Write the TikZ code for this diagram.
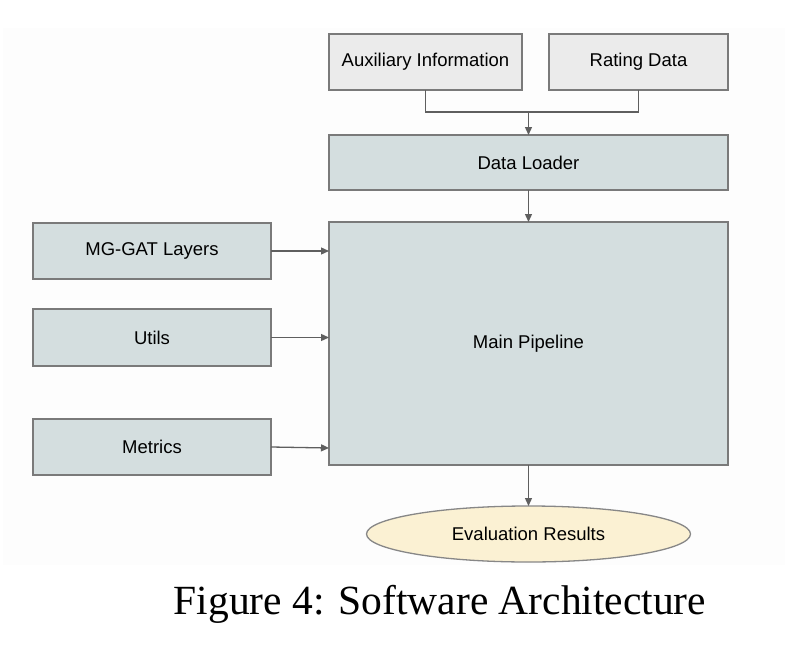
\documentclass[tikz,border=0pt]{standalone}
\usepackage{fontspec}
\setmainfont{Liberation Sans}
\newfontfamily\capfont{Liberation Serif}
\usetikzlibrary{arrows.meta, positioning, shapes.geometric}

\definecolor{inputfill}{HTML}{EBEBEB}
\definecolor{modfill}{HTML}{D4DEDF}
\definecolor{resfill}{HTML}{FBF1D3}
\definecolor{edgegray}{HTML}{7A7A7A}
\definecolor{linegray}{HTML}{5F5F5F}

\tikzset{
  box/.style={draw=edgegray, line width=1.3pt, outer sep=0pt, inner sep=0pt, font=\fontsize{18.5}{22}\selectfont},
  inbox/.style={box, fill=inputfill, minimum height=56pt},
  modbox/.style={box, fill=modfill},
  arr/.style={-{Triangle[length=8pt,width=7pt]}, draw=linegray, line width=1.3pt},
}

\begin{document}
\begin{tikzpicture}[x=1pt, y=-1pt]

  \useasboundingbox (0,0) rectangle (812,656);
  \fill[black!0.7] (3,28) rectangle (785,565);

  \node (aux) [inbox, minimum width=193pt] at (425.5,62) {Auxiliary Information};
  \node (rating) [inbox, minimum width=179pt, right=27pt of aux] {Rating Data};
  \node (loader) [modbox, minimum width=399pt, minimum height=55pt] at (528.5,162.5) {Data Loader};
  \node (pipeline) [modbox, minimum width=399pt, minimum height=243pt, below=32pt of loader] {Main Pipeline};

  \node (gat) [modbox, minimum width=238pt, minimum height=56pt] at (152,251) {MG-GAT Layers};
  \node (utils) [modbox, minimum width=238pt, minimum height=57pt, below=30pt of gat] {Utils};
  \node (metrics) [modbox, minimum width=238pt, minimum height=56pt, below=53pt of utils] {Metrics};

  \node (results) [box, ellipse, fill=resfill, draw=edgegray!90, minimum width=324pt, minimum height=56pt, below=41pt of pipeline] {Evaluation Results};

  \node (caption) [anchor=base, font=\capfont\fontsize{41.5}{48}\selectfont] at (440,614) {Figure 4: Software Architecture};

  \coordinate (merge) at ([yshift=23pt]loader.north);
  \draw[draw=linegray, line width=1.3pt] (aux.south) |- (merge) -| (rating.south);
  \draw[arr] (merge) -- (loader.north);
  \draw[arr] (loader.south) -- (pipeline.north);

  \draw[arr] (gat.east) -- (gat.east -| pipeline.west);
  \draw[arr] (utils.east) -- (utils.east -| pipeline.west);
  \draw[arr] (metrics.east) -- ([yshift=-1pt]metrics.east -| pipeline.west);

  \draw[arr] (pipeline.south) -- (results.north);

\end{tikzpicture}
\end{document}
